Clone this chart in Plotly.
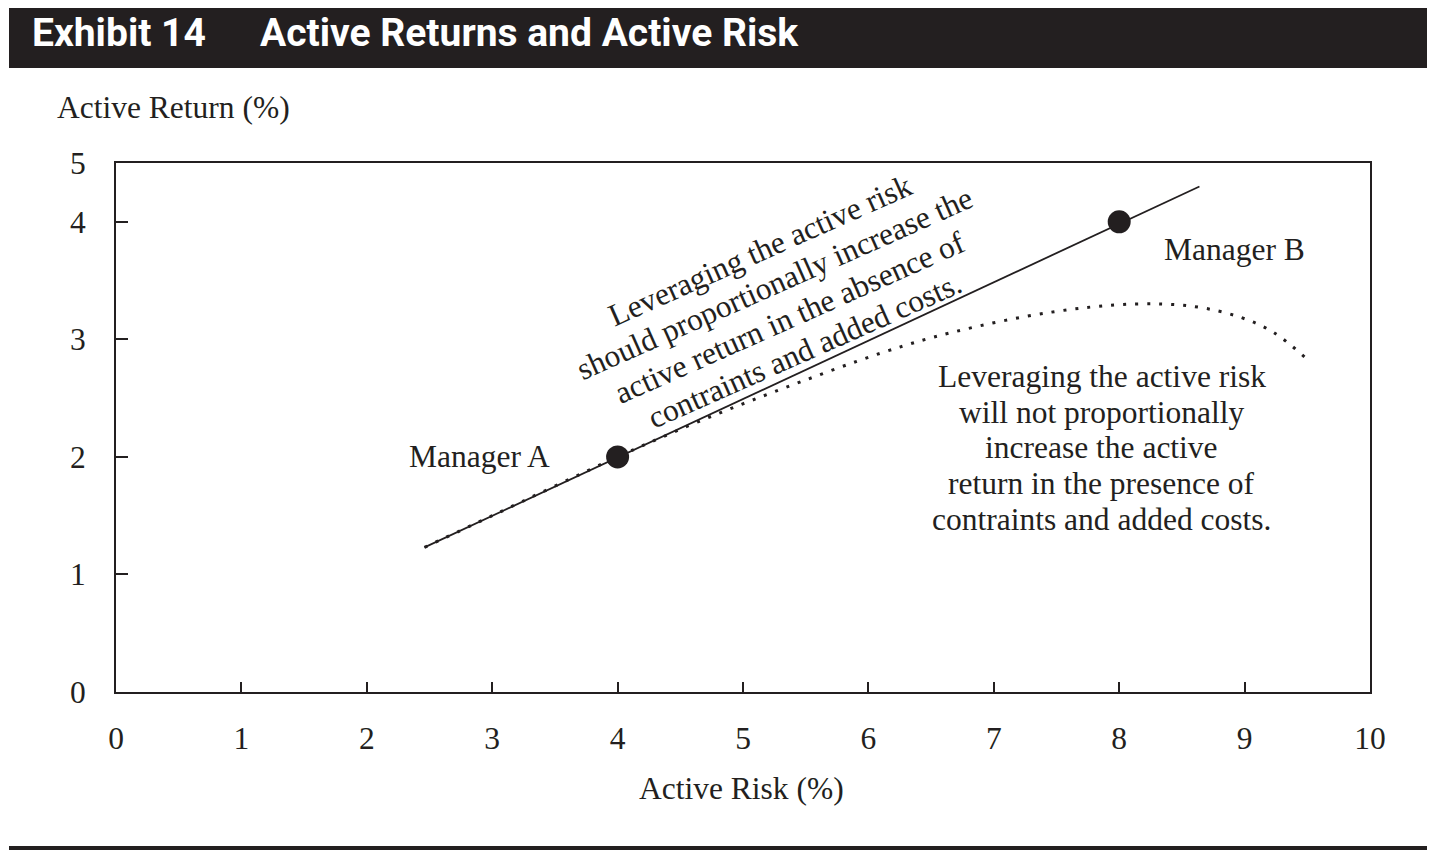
import math
import plotly.graph_objects as go

# ---- data ----
manager_names = ["Manager A", "Manager B"]
manager_risk = [4, 8]
manager_return = [2, 4]

line_risk = [2.46, 8.64]
line_return = [1.23, 4.30]

curve_risk = [2.46, 3.0, 4.0, 4.6, 5.24, 6.12, 6.67, 7.45, 8.11, 8.59, 8.96, 9.23, 9.52]
curve_return = [1.23, 1.5, 2.0, 2.28, 2.55, 2.89, 3.06, 3.23, 3.30, 3.28, 3.19, 3.06, 2.81]

x_ticks = [0, 1, 2, 3, 4, 5, 6, 7, 8, 9, 10]
y_tickvals = [0, 1, 2, 3, 4, 4.5]
y_ticktext = ["0", "1", "2", "3", "4", "5"]

upper_text = ["Leveraging the active risk",
              "should proportionally increase the",
              "active return in the absence of",
              "contraints and added costs."]
lower_text = ["Leveraging the active risk",
              "will not proportionally",
              "increase the active",
              "return in the presence of",
              "contraints and added costs."]

INK = "#231f20"
SERIF = "Liberation Serif, Times New Roman, serif"
FS = 31.5

fig = go.Figure()
fig.add_trace(go.Scatter(x=line_risk, y=line_return, mode="lines",
                         line=dict(color=INK, width=1.8), hoverinfo="skip"))
fig.add_trace(go.Scatter(x=curve_risk, y=curve_return, mode="lines",
                         line=dict(color=INK, width=3, dash="3px,9px", shape="spline", smoothing=1.0),
                         hoverinfo="skip"))
fig.add_trace(go.Scatter(x=manager_risk, y=manager_return, mode="markers",
                         marker=dict(color=INK, size=23), text=manager_names))

ann = []
# manager labels
ann.append(dict(x=2.90, y=2.0, text="Manager A", showarrow=False,
                font=dict(family=SERIF, size=FS, color=INK)))
ann.append(dict(x=8.92, y=3.76, text="Manager B", showarrow=False,
                font=dict(family=SERIF, size=FS, color=INK)))

# rotated block
ang = 24
sp = 36.5
for i, t in enumerate(upper_text):
    d = (i - 1.5) * sp - 7
    ann.append(dict(x=5.335, y=3.277, text=t, showarrow=False, textangle=-ang,
                    xshift=math.sin(math.radians(ang)) * d,
                    yshift=-math.cos(math.radians(ang)) * d,
                    font=dict(family=SERIF, size=FS, color=INK)))
# right block
for i, t in enumerate(lower_text):
    ann.append(dict(x=7.86, y=2.077, text=t, showarrow=False,
                    yshift=-(i - 2) * 35.7,
                    font=dict(family=SERIF, size=FS, color=INK)))

# axis titles
ann.append(dict(xref="paper", yref="paper", x=(55 - 116) / 1254, y=(692 - 108) / 529,
                xanchor="left", yanchor="middle", text="Active Return (%)", showarrow=False,
                font=dict(family=SERIF, size=FS, color=INK)))
ann.append(dict(xref="paper", yref="paper", x=0.499, y=(692 - 788) / 529,
                xanchor="center", yanchor="middle", text="Active Risk (%)", showarrow=False,
                font=dict(family=SERIF, size=FS, color=INK)))

# exhibit header
TITLE_FONT = dict(family="Roboto, Arial, sans-serif", size=39, color="white")
ann.append(dict(xref="paper", yref="paper", x=(30 - 116) / 1254, y=(692 - 33) / 529,
                xanchor="left", yanchor="middle", text="<b>Exhibit 14</b>", showarrow=False,
                font=TITLE_FONT))
ann.append(dict(xref="paper", yref="paper", x=(258 - 116) / 1254, y=(692 - 33) / 529,
                xanchor="left", yanchor="middle", text="<b>Active Returns and Active Risk</b>",
                showarrow=False, font=TITLE_FONT))

shapes = [
    dict(type="rect", xref="paper", yref="paper", layer="below",
         x0=(9 - 116) / 1254, x1=(1427 - 116) / 1254,
         y0=(692 - 68) / 529, y1=(692 - 0) / 529,
         fillcolor=INK, line=dict(width=0)),
    dict(type="line", xref="paper", yref="paper",
         x0=(9 - 116) / 1254, x1=(1427 - 116) / 1254,
         y0=(692 - 848) / 529, y1=(692 - 848) / 529,
         line=dict(color=INK, width=4)),
]

fig.update_layout(
    width=1428, height=859,
    margin=dict(l=108, r=66, t=155, b=175),
    paper_bgcolor="white", plot_bgcolor="white",
    showlegend=False,
    annotations=ann, shapes=shapes,
    font=dict(family=SERIF, size=FS, color=INK),
    xaxis=dict(range=[0, 10], tickvals=x_ticks, ticks="inside", ticklen=10, tickwidth=1.5,
               tickcolor=INK, showline=True, linecolor=INK, linewidth=2, mirror=True,
               showgrid=False, zeroline=False, ticklabelstandoff=17,
               tickfont=dict(family=SERIF, size=FS, color=INK)),
    yaxis=dict(range=[0, 4.5], tickvals=y_tickvals, ticktext=y_ticktext, ticks="inside",
               ticklen=12, tickwidth=1.5, tickcolor=INK, showline=True, linecolor=INK,
               linewidth=2, mirror=True, showgrid=False, zeroline=False,
               ticklabelstandoff=22, tickfont=dict(family=SERIF, size=FS, color=INK)),
)

fig.write_html("out.html")
